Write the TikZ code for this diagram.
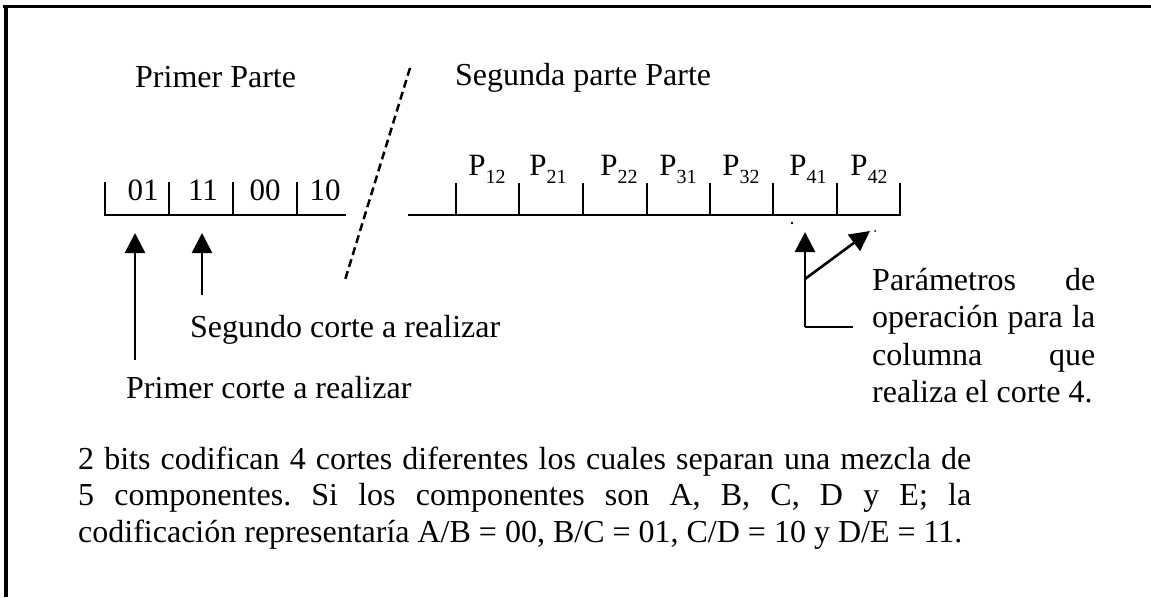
\documentclass[tikz,border=0pt]{standalone}
\usepackage{fontspec}
\setmainfont{Liberation Serif}
\usetikzlibrary{arrows.meta}
\frenchspacing
\newcommand\Psub[1]{P\raisebox{-8pt}{\fontsize{20}{20}\selectfont #1}}
\tikzset{
  txt/.style={inner sep=0pt, anchor=base west, font=\fontsize{32}{38}\selectfont},
  lbl/.style={inner sep=0pt, anchor=base, font=\fontsize{31}{38}\selectfont},
  frame/.style={line width=3.5pt},
  ruler/.style={line width=2pt},
  tick/.style={line width=1.8pt},
  arr/.style={line width=2.6pt, -{Triangle[width=20pt,length=20pt]}},
  plain/.style={line width=2.6pt},
  cut/.style={line width=2.5pt, dash pattern=on 8pt off 4.5pt},
}
\begin{document}
\begin{tikzpicture}[x=1pt,y=-1pt]
\useasboundingbox (0,0) rectangle (1151,597);
\fill[white] (0,0) rectangle (1151,597);
% frame
\coordinate (fa) at (3,6.5);
\coordinate (fb) at (1151,6.5);
\coordinate (fc) at (6,4.75);
\coordinate (fd) at (6,597);
\draw[frame] (fa) -- (fb);
\draw[frame] (fc) -- (fd);
% titles
\node[txt] (t1) at (135,87) {Primer Parte};
\node[txt] (t2) at (455,85) {Segunda parte Parte};
% dashed cut
\coordinate (d1) at (410,68);
\coordinate (d2) at (345,280);
\draw[cut] (d1) -- (d2);
% left ruler
\coordinate (la) at (104,215);
\coordinate (lb) at (346,215);
\draw[ruler] (la) -- (lb);
\foreach \x [count=\i] in {105,169,233,297}{
  \coordinate (lt\i) at (\x,182);
  \coordinate (lu\i) at (\x,215);
  \draw[tick] (lt\i) -- (lu\i);
}
\node[lbl] (b1) at (143,200) {01};
\node[lbl] (b2) at (203,200) {11};
\node[lbl] (b3) at (265,200) {00};
\node[lbl] (b4) at (325,200) {10};
% right ruler
\coordinate (ra) at (408,215);
\coordinate (rb) at (901,215);
\draw[ruler] (ra) -- (rb);
\foreach \x [count=\i] in {456,519,583,647,710,773,837,900}{
  \coordinate (rt\i) at (\x,183);
  \coordinate (ru\i) at (\x,215);
  \draw[tick] (rt\i) -- (ru\i);
}
\node[lbl] (p1) at (487,175) {\Psub{12}};
\node[lbl] (p2) at (548,175) {\Psub{21}};
\node[lbl] (p3) at (619,175) {\Psub{22}};
\node[lbl] (p4) at (678,175) {\Psub{31}};
\node[lbl] (p5) at (741,175) {\Psub{32}};
\node[lbl] (p6) at (808,175) {\Psub{41}};
\node[lbl] (p7) at (869,175) {\Psub{42}};
% specks
\fill (792,223) circle (1.4pt);
\fill (875,231) circle (1pt);
% left arrows
\coordinate (a1s) at (135,360);
\coordinate (a1e) at (135,233);
\coordinate (a2s) at (202,295);
\coordinate (a2e) at (202,233);
\draw[arr] (a1s) -- (a1e);
\draw[arr] (a2s) -- (a2e);
\node[txt] (s2) at (190,337) {Segundo corte a realizar};
\node[txt] (s1) at (126,398) {Primer corte a realizar};
% right arrows
\coordinate (c0) at (805,327);
\coordinate (c1) at (805,232);
\coordinate (c2) at (853,327);
\coordinate (c3) at (805,279);
\coordinate (c4) at (870,231);
\draw[arr] (c0) -- (c1);
\draw[plain] (c0) -- (c2);
\draw[arr] (c3) -- (c4);
\node[txt] (r1) at (872,290) {\makebox[223pt][s]{Parámetros de}};
\node[txt] (r2) at (872,327) {\makebox[223pt][s]{operación para la}};
\node[txt] (r3) at (872,365) {\makebox[223pt][s]{columna que}};
\node[txt] (r4) at (872,402) {realiza el corte 4.};
% bottom paragraph
\node[txt] (q1) at (78,469) {\makebox[893pt][s]{2 bits codifican 4 cortes diferentes los cuales separan una mezcla de}};
\node[txt] (q2) at (78,505) {\makebox[893pt][s]{5 componentes. Si los componentes son A, B, C, D y E; la}};
\node[txt] (q3) at (78,542) {codificación representaría A/B = 00, B/C = 01, C/D = 10 y D/E = 11.};
\end{tikzpicture}
\end{document}
